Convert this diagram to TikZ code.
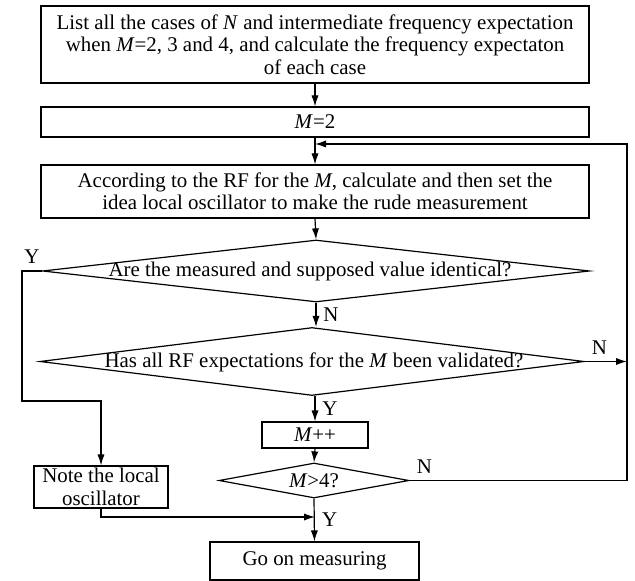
\documentclass[tikz,border=0pt]{standalone}
\usepackage{fontspec}
\setmainfont{Liberation Serif}
\usetikzlibrary{shapes.geometric,arrows.meta}
\tikzset{
     box/.style={draw,rectangle,inner sep=0pt,align=center,line width=0.6pt},
     decision/.style={draw,diamond,inner sep=0pt,line width=0.6pt},
     flow/.style={-{Latex[length=5.5pt,width=3.6pt]},line width=0.6pt}
}
\begin{document}
\begin{tikzpicture}[x=0.5pt,y=-0.5pt,font=\fontsize{10.45}{11.2}\selectfont]
     \useasboundingbox (0,0) rectangle (635,581);
     \node[box,minimum width=274pt,minimum height=38.5pt] (list) at (315,44.5) {List all the cases of \textit{N} and intermediate frequency expectation\\when \textit{M}=2, 3 and 4, and calculate the frequency expectaton\\of each case};
     \node[box,minimum width=274pt,minimum height=15pt] (mtwo) at (315,122) {\textit{M}=2};
     \node[box,minimum width=274pt,minimum height=26.5pt] (rough) at (315,191.5) {According to the RF for the \textit{M}, calculate and then set the\\idea local oscillator to make the rude measurement};
     \node[decision,minimum width=273.5pt,minimum height=31pt] (same) at (316,271) {};
     \node (sametext) at (310,271) {Are the measured and supposed value identical?};
     \node[decision,minimum width=272pt,minimum height=34pt] (done) at (312,361.5) {};
     \node (donetext) at (314,362) {Has all RF expectations for the \textit{M} been validated?};
     \node[box,minimum width=53pt,minimum height=13pt] (inc) at (315,435) {\textit{M}++};
     \node[decision,minimum width=95pt,minimum height=17.5pt] (more) at (314,480.5) {};
     \node (moretext) at (314,481) {\textit{M}>4?};
     \node[box,minimum width=67pt,minimum height=21pt] (note) at (101,487) {Note the local\\oscillator};
     \node[box,minimum width=104.5pt,minimum height=19pt] (goon) at (314.5,561) {Go on measuring};
     \coordinate (back) at (627,144);
     \coordinate (ybend) at (22,401);
     \coordinate (join) at (315,517);
     \draw[flow] (list.south) -- (mtwo.south |- list.south) -- (mtwo.north);
     \draw[flow] (mtwo.south) -- (rough.north);
     \draw[flow] (rough.south) -- (same.north);
     \draw[flow] (same.south) -- node[right] {N} (same.south |- done.north);
     \draw[flow] (done.south -| inc.north) -- node[right] {Y} (inc.north);
     \draw[flow] (inc.south) -- (more.north);
     \draw[flow] (more.south) -- (goon.north);
     \node[right] at (315,520) {Y};
     \draw[flow] (same.west) -- node[above] {Y} (same.west -| ybend) -- (ybend) -| (note.north);
     \draw[flow] (note.south) |- (join);
     \draw[flow] (done.east) -- node[pos=0,above right] {N} (done.east -| back);
     \draw[flow] (more.east) -- node[pos=0,above right] {N} (more.east -| back) -- (back) -- (rough.north |- back);
\end{tikzpicture}
\end{document}
